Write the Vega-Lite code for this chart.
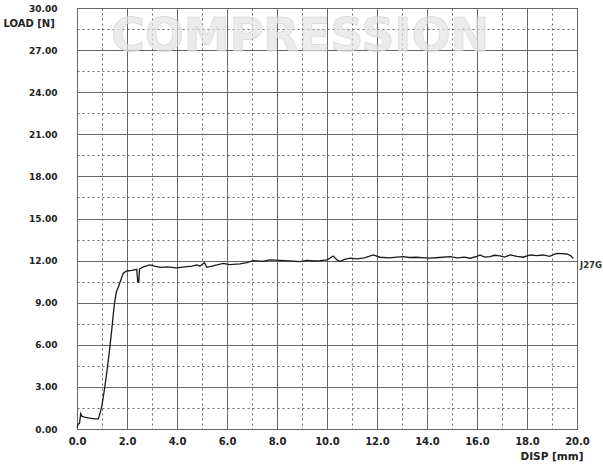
{
  "$schema": "https://vega.github.io/schema/vega-lite/v6.json",
  "autosize": "none",
  "width": 500,
  "height": 421,
  "padding": {"left": 77, "top": 8, "right": 26, "bottom": 36},
  "background": "white",
  "config": {
    "view": {"stroke": "#111", "strokeWidth": 1},
    "font": "DejaVu Sans"
  },
  "datasets": {
    "curve": [
      {"disp": 0.0, "load": 0.1}, {"disp": 0.05, "load": 0.35}, {"disp": 0.1, "load": 0.4},
      {"disp": 0.15, "load": 1.1}, {"disp": 0.2, "load": 0.9}, {"disp": 0.3, "load": 0.85},
      {"disp": 0.5, "load": 0.78}, {"disp": 0.7, "load": 0.72}, {"disp": 0.85, "load": 0.72},
      {"disp": 0.92, "load": 1.1}, {"disp": 1.0, "load": 1.7}, {"disp": 1.08, "load": 2.6},
      {"disp": 1.19, "load": 4.0}, {"disp": 1.3, "load": 5.6}, {"disp": 1.39, "load": 7.06},
      {"disp": 1.47, "load": 8.5}, {"disp": 1.52, "load": 9.2}, {"disp": 1.58, "load": 9.8},
      {"disp": 1.65, "load": 10.1}, {"disp": 1.75, "load": 10.6}, {"disp": 1.85, "load": 11.1},
      {"disp": 1.99, "load": 11.26}, {"disp": 2.2, "load": 11.3}, {"disp": 2.39, "load": 11.38},
      {"disp": 2.43, "load": 10.5}, {"disp": 2.47, "load": 10.45}, {"disp": 2.5, "load": 11.4},
      {"disp": 2.65, "load": 11.55}, {"disp": 2.79, "load": 11.62}, {"disp": 2.92, "load": 11.69},
      {"disp": 3.1, "load": 11.6}, {"disp": 3.32, "load": 11.52}, {"disp": 3.6, "load": 11.55},
      {"disp": 3.99, "load": 11.48}, {"disp": 4.3, "load": 11.55}, {"disp": 4.6, "load": 11.6},
      {"disp": 4.79, "load": 11.69}, {"disp": 4.92, "load": 11.62}, {"disp": 5.1, "load": 11.85},
      {"disp": 5.19, "load": 11.52}, {"disp": 5.4, "load": 11.6}, {"disp": 5.65, "load": 11.72},
      {"disp": 5.85, "load": 11.8}, {"disp": 6.1, "load": 11.72}, {"disp": 6.52, "load": 11.76},
      {"disp": 6.8, "load": 11.85}, {"disp": 7.05, "load": 12.0}, {"disp": 7.4, "load": 11.95},
      {"disp": 7.72, "load": 12.05}, {"disp": 8.12, "load": 12.02}, {"disp": 8.5, "load": 11.98},
      {"disp": 8.92, "load": 11.93}, {"disp": 9.2, "load": 12.02}, {"disp": 9.5, "load": 11.97},
      {"disp": 9.72, "load": 12.0}, {"disp": 10.0, "load": 12.05}, {"disp": 10.25, "load": 12.33},
      {"disp": 10.4, "load": 12.05}, {"disp": 10.52, "load": 11.93}, {"disp": 10.7, "load": 12.08},
      {"disp": 10.92, "load": 12.17}, {"disp": 11.2, "load": 12.12}, {"disp": 11.5, "load": 12.2},
      {"disp": 11.85, "load": 12.4}, {"disp": 12.12, "load": 12.24}, {"disp": 12.5, "load": 12.2},
      {"disp": 12.8, "load": 12.25}, {"disp": 13.05, "load": 12.28}, {"disp": 13.3, "load": 12.22},
      {"disp": 13.59, "load": 12.24}, {"disp": 13.9, "load": 12.2}, {"disp": 14.12, "load": 12.17},
      {"disp": 14.5, "load": 12.22}, {"disp": 14.92, "load": 12.28}, {"disp": 15.2, "load": 12.2},
      {"disp": 15.5, "load": 12.25}, {"disp": 15.72, "load": 12.17}, {"disp": 16.0, "load": 12.3},
      {"disp": 16.12, "load": 12.4}, {"disp": 16.3, "load": 12.25}, {"disp": 16.52, "load": 12.28},
      {"disp": 16.7, "load": 12.38}, {"disp": 16.92, "load": 12.33}, {"disp": 17.1, "load": 12.25},
      {"disp": 17.32, "load": 12.4}, {"disp": 17.6, "load": 12.3}, {"disp": 17.85, "load": 12.24},
      {"disp": 18.12, "load": 12.4}, {"disp": 18.4, "load": 12.35}, {"disp": 18.65, "load": 12.4},
      {"disp": 18.9, "load": 12.3}, {"disp": 19.19, "load": 12.52}, {"disp": 19.4, "load": 12.5},
      {"disp": 19.59, "load": 12.47}, {"disp": 19.75, "load": 12.35}, {"disp": 19.85, "load": 12.17}
    ],
    "watermark": [{"disp": 8.92, "load": 27.9, "text": "COMPRESSION"}],
    "tag": [{"disp": 20, "load": 11.7, "text": "J27G"}]
  },
  "encoding": {
    "x": {
      "field": "disp", "type": "quantitative",
      "scale": {"domain": [0, 20], "nice": false, "zero": false},
      "axis": {
        "title": "DISP [mm]",
        "values": [0,1,2,3,4,5,6,7,8,9,10,11,12,13,14,15,16,17,18,19,20],
        "labelExpr": "datum.value % 2 === 0 ? format(datum.value, '.1f') : ''",
        "labelFont": "DejaVu Sans", "labelFontWeight": "bold", "labelFontSize": 10,
        "labelColor": "#222", "labelPadding": 7, "labelFlush": false,
        "ticks": false, "domain": false,
        "grid": true, "gridColor": "#666", "gridWidth": 1,
        "gridDash": {"condition": {"test": "datum.value % 2 !== 0", "value": [2, 3]}, "value": []},
        "titleFont": "DejaVu Sans", "titleFontWeight": "bold", "titleFontSize": 10.5,
        "titleColor": "#222", "titleAnchor": "end", "titleAlign": "right",
        "titleX": 506, "titleY": 27, "titleBaseline": "middle"
      }
    },
    "y": {
      "field": "load", "type": "quantitative",
      "scale": {"domain": [0, 30], "nice": false, "zero": true},
      "axis": {
        "title": "LOAD [N]",
        "values": [0,1.5,3,4.5,6,7.5,9,10.5,12,13.5,15,16.5,18,19.5,21,22.5,24,25.5,27,28.5,30],
        "labelExpr": "datum.value % 3 === 0 ? format(datum.value, '.2f') : ''",
        "labelFont": "DejaVu Sans", "labelFontWeight": "bold", "labelFontSize": 9,
        "labelColor": "#222", "labelPadding": 20, "labelFlush": false,
        "ticks": false, "domain": false,
        "grid": true, "gridColor": "#666", "gridWidth": 1,
        "gridDash": {"condition": {"test": "datum.value % 3 !== 0", "value": [2, 3]}, "value": []},
        "titleFont": "DejaVu Sans", "titleFontWeight": "bold", "titleFontSize": 10,
        "titleColor": "#222", "titleAngle": 0, "titleAlign": "left",
        "titleX": -74, "titleY": 15, "titleBaseline": "middle"
      }
    }
  },
  "layer": [
    {
      "data": {"name": "watermark"},
      "mark": {"type": "text", "font": "DejaVu Sans", "fontWeight": "bold", "fontSize": 46,
               "fill": "#e2e2e2", "fillOpacity": 0.7, "stroke": "#cfcfcf", "strokeWidth": 0.5,
               "align": "center", "baseline": "middle"},
      "encoding": {"text": {"field": "text"}}
    },
    {
      "data": {"name": "curve"},
      "mark": {"type": "line", "color": "#1a1a1a", "strokeWidth": 1.3},
      "encoding": {}
    },
    {
      "data": {"name": "tag"},
      "mark": {"type": "text", "font": "DejaVu Sans", "fontWeight": "bold", "fontSize": 8.5,
               "fill": "#333", "align": "left", "baseline": "middle", "dx": 3},
      "encoding": {"text": {"field": "text"}}
    }
  ]
}
